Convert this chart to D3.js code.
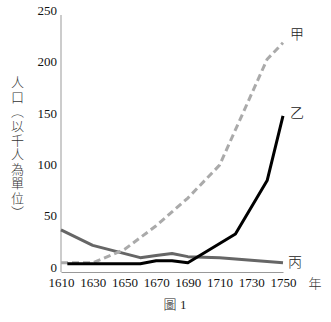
<!DOCTYPE html>
<html>
<head>
<meta charset="utf-8">
<script src="https://cdn.jsdelivr.net/npm/d3@7"></script>
<style>
  html, body { margin: 0; padding: 0; background: #fff; }
  #wrap { position: relative; width: 331px; height: 322px; }
  svg { display: block; }
  #ytitle {
    position: absolute; left: 10px; top: 76px;
    writing-mode: vertical-rl; text-orientation: upright;
    font-family: 'Noto Sans CJK TC', 'Noto Sans CJK SC', sans-serif;
    font-weight: 300; font-size: 13px; line-height: 14px;
    letter-spacing: 1.4px; color: #333; white-space: nowrap;
  }
</style>
</head>
<body>
<div id="wrap">
<svg id="chart" width="331" height="322"></svg>
<div id="ytitle"></div>
</div>
<script>
// Population series (thousands) by year
const yearTicks = [1610, 1630, 1650, 1670, 1690, 1710, 1730, 1750];
const valueTicks = [0, 50, 100, 150, 200, 250];

const jiaYears   = [1610, 1630, 1650, 1670, 1690, 1710, 1740, 1750];
const jiaValues  = [7, 7, 20, 43, 70, 102, 205, 221];

const yiYears    = [1614, 1660, 1670, 1680, 1690, 1720, 1740, 1750];
const yiValues   = [6, 6, 9, 9, 7, 35, 87, 150];

const bingYears  = [1610, 1630, 1660, 1670, 1680, 1690, 1710, 1750];
const bingValues = [39, 24, 12, 14, 16, 13, 12, 7];

const seriesNames = ["甲", "乙", "丙"];
const yTitle = "人口（以千人為單位）";

const svg = d3.select("#chart");
const x = d3.scaleLinear().domain([1610, 1750]).range([61, 283]);
const y = d3.scaleLinear().domain([0, 250]).range([270, 13]);

const serif = "'Liberation Serif', 'Times New Roman', serif";
const cjk = "'Noto Sans CJK TC', 'Noto Sans CJK SC', sans-serif";

// Axes
const xAxis = svg.append("g")
  .attr("transform", "translate(0,272)")
  .call(d3.axisBottom(x).tickValues(yearTicks).tickFormat(d3.format("d"))
    .tickSize(0).tickPadding(6));
xAxis.select(".domain").attr("stroke", "#999").attr("stroke-width", 1);
xAxis.selectAll("text").attr("font-family", serif).attr("font-size", 13).attr("fill", "#111");

const yAxis = svg.append("g")
  .attr("transform", "translate(61,0)")
  .call(d3.axisLeft(y).tickValues(valueTicks).tickSize(0).tickPadding(4));
yAxis.select(".domain").attr("stroke", "#999").attr("stroke-width", 1)
  .attr("d", `M0,${y(250) + 2}V272`);
yAxis.selectAll("text").attr("font-family", serif).attr("font-size", 13).attr("fill", "#111")
  .attr("dy", "0.1em");

// Lines
const line = d3.line().x(d => x(d[0])).y(d => y(d[1]));
const zip = (a, b) => a.map((v, i) => [v, b[i]]);

svg.append("path").datum(zip(bingYears, bingValues))
  .attr("d", line).attr("fill", "none").attr("stroke", "#666")
  .attr("stroke-width", 3).attr("stroke-linejoin", "round");

svg.append("path").datum(zip(jiaYears, jiaValues))
  .attr("d", line).attr("fill", "none").attr("stroke", "#aaa")
  .attr("stroke-width", 3).attr("stroke-dasharray", "7,4");

svg.append("path").datum(zip(yiYears, yiValues))
  .attr("d", line).attr("fill", "none").attr("stroke", "#000")
  .attr("stroke-width", 3).attr("stroke-linejoin", "round");

// Series labels
const labelPos = [[297, 34], [297, 113], [295, 262]];
svg.selectAll("text.series").data(seriesNames).enter().append("text")
  .attr("class", "series")
  .attr("x", (d, i) => labelPos[i][0])
  .attr("y", (d, i) => labelPos[i][1])
  .attr("dy", "0.35em")
  .attr("text-anchor", "middle")
  .attr("font-family", cjk).attr("font-size", 14).attr("font-weight", 300)
  .attr("fill", "#222")
  .text(d => d);

// Unit and caption
svg.append("text").attr("x", 315).attr("y", 283).attr("dy", "0.35em")
  .attr("text-anchor", "middle").attr("font-family", cjk).attr("font-size", 13)
  .attr("font-weight", 300).attr("fill", "#333").text("年");

svg.append("text").attr("x", 175).attr("y", 304).attr("dy", "0.35em")
  .attr("text-anchor", "middle").attr("font-size", 13).attr("fill", "#222")
  .call(t => {
    t.append("tspan").attr("font-family", cjk).attr("font-weight", 300).text("圖");
    t.append("tspan").attr("font-family", serif).text(" 1");
  });

// Vertical y-axis title
d3.select("#ytitle").text(yTitle);
</script>
</body>
</html>
